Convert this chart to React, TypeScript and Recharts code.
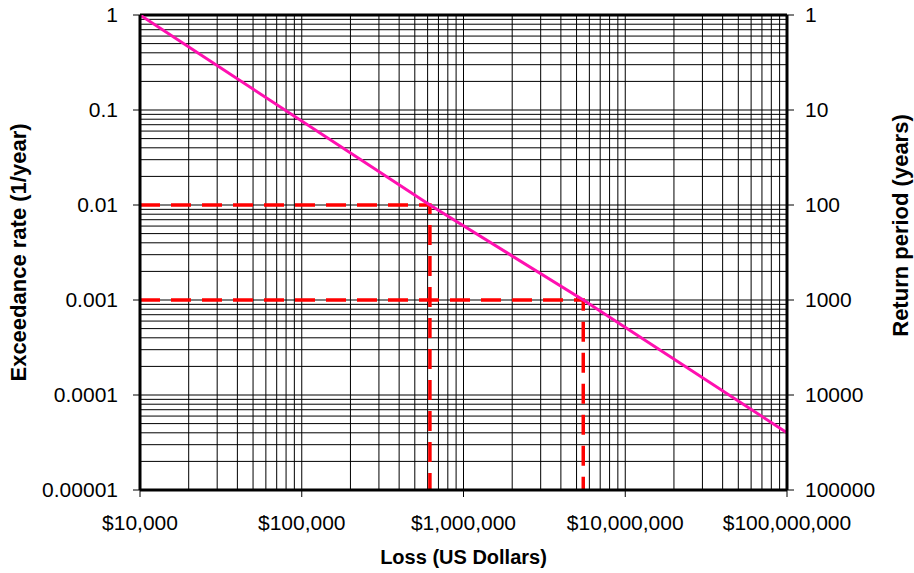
import React from 'react'
import {
  ComposedChart,
  Line,
  XAxis,
  YAxis,
  CartesianGrid,
  ReferenceLine,
} from 'recharts'

// loss exceedance curve
const curveLoss = [1e4, 6.2e5, 5.5e6, 1e8]
const curveRate = [1, 0.01, 0.001, 4e-5]

// 100-year and 1000-year guide lines
const guide100Loss = [1e4, 6.2e5, 6.2e5]
const guide100Rate = [0.01, 0.01, 1e-5]
const guide1000Loss = [1e4, 5.5e6, 5.5e6]
const guide1000Rate = [0.001, 0.001, 1e-5]

const lossTicks = [1e4, 1e5, 1e6, 1e7, 1e8]
const rateTicks = [1, 0.1, 0.01, 0.001, 0.0001, 0.00001]
const rateLabels = ['1', '0.1', '0.01', '0.001', '0.0001', '0.00001']
const periodLabels = ['1', '10', '100', '1000', '10000', '100000']

const toRows = (xs: number[], ys: number[]) => xs.map((loss, i) => ({ loss, rate: ys[i] }))

const curve = toRows(curveLoss, curveRate)
const guide100 = toRows(guide100Loss, guide100Rate)
const guide1000 = toRows(guide1000Loss, guide1000Rate)

// minor gridlines at 1..9 of every decade
const minor = (decades: number[]) =>
  decades.slice(0, -1).flatMap((d) => [1, 2, 3, 4, 5, 6, 7, 8, 9].map((k) => d * k))

const gridX = [...minor(lossTicks), 1e8]
const gridY = [...minor([...rateTicks].reverse()), 1]

const FONT = '"Liberation Sans", Arial, sans-serif'

const sameDecade = (a: number, b: number) => Math.abs(Math.log10(a) - Math.log10(b)) < 1e-6
const fmtLoss = (v: number) => '$' + Math.round(v).toLocaleString('en-US')
const fmtRate = (v: number) => {
  const i = rateTicks.findIndex((t) => sameDecade(t, v))
  return i >= 0 ? rateLabels[i] : ''
}
const fmtPeriod = (v: number) => {
  const i = rateTicks.findIndex((t) => sameDecade(t, v))
  return i >= 0 ? periodLabels[i] : ''
}

const tickStyle = { fill: '#000', fontSize: 21, fontFamily: FONT }
const titleStyle = { fill: '#000', fontSize: 20, fontWeight: 'bold', fontFamily: FONT, textAnchor: 'middle' as const }
const sideTitleStyle = { ...titleStyle, fontSize: 22 }

function RightTitle(props: any) {
  const vb = props.viewBox || {}
  const x = vb.x + vb.width - 14
  const y = vb.y + vb.height / 2 - 27
  return (
    <text
      x={x}
      y={y}
      transform={`rotate(-90, ${x}, ${y})`}
      textAnchor="middle"
      dominantBaseline="central"
      fontSize={22}
      fontWeight="bold"
      fontFamily={FONT}
      fill="#000"
    >
      Return period (years)
    </text>
  )
}

export default function App() {
  return (
    <div style={{ position: 'absolute', left: 0, top: 0, background: '#fff' }}>
      <ComposedChart width={914} height={573} margin={{ top: 15, right: 0, bottom: 0, left: 0 }}>
        <CartesianGrid
          xAxisId="loss"
          yAxisId="rate"
          stroke="#000"
          strokeWidth={1}
          verticalValues={gridX}
          horizontalValues={gridY}
        />
        <XAxis
          xAxisId="loss"
          dataKey="loss"
          type="number"
          scale="log"
          domain={[1e4, 1e8]}
          ticks={lossTicks}
          tickFormatter={fmtLoss}
          interval={0}
          allowDataOverflow
          height={83}
          tickSize={7}
          tickMargin={18}
          tick={tickStyle}
          axisLine={{ stroke: '#000', strokeWidth: 3 }}
          tickLine={{ stroke: '#000', strokeWidth: 1 }}
          label={{ value: 'Loss (US Dollars)', position: 'insideBottom', offset: 9, style: titleStyle }}
        />
        <YAxis
          yAxisId="rate"
          type="number"
          scale="log"
          domain={[1e-5, 1]}
          ticks={rateTicks}
          tickFormatter={fmtRate}
          interval={0}
          allowDataOverflow
          width={140}
          tickSize={7}
          tickMargin={15}
          tick={tickStyle}
          axisLine={{ stroke: '#000', strokeWidth: 3 }}
          tickLine={{ stroke: '#000', strokeWidth: 1 }}
          label={{ value: 'Exceedance rate (1/year)', angle: -90, position: 'insideLeft', offset: 18, style: sideTitleStyle }}
        />
        <YAxis
          yAxisId="period"
          orientation="right"
          type="number"
          scale="log"
          domain={[1e-5, 1]}
          ticks={rateTicks}
          tickFormatter={fmtPeriod}
          interval={0}
          allowDataOverflow
          width={127}
          tickSize={7}
          tickMargin={11}
          tick={tickStyle}
          axisLine={{ stroke: '#000', strokeWidth: 3 }}
          tickLine={{ stroke: '#000', strokeWidth: 1 }}
          label={{ value: 'Return period (years)', position: 'insideRight', content: <RightTitle /> }}
        />
        <ReferenceLine xAxisId="loss" yAxisId="rate" y={1} stroke="#000" strokeWidth={3} />
        <Line
          xAxisId="loss"
          yAxisId="period"
          data={guide100}
          dataKey="rate"
          stroke="#FF0000"
          strokeWidth={3.5}
          strokeDasharray="20 11"
          dot={false}
          isAnimationActive={false}
        />
        <Line
          xAxisId="loss"
          yAxisId="period"
          data={guide1000}
          dataKey="rate"
          stroke="#FF0000"
          strokeWidth={3.5}
          strokeDasharray="20 11"
          dot={false}
          isAnimationActive={false}
        />
        <Line
          xAxisId="loss"
          yAxisId="rate"
          data={curve}
          dataKey="rate"
          stroke="#FF10B0"
          strokeWidth={3}
          dot={false}
          isAnimationActive={false}
        />
      </ComposedChart>
    </div>
  )
}
